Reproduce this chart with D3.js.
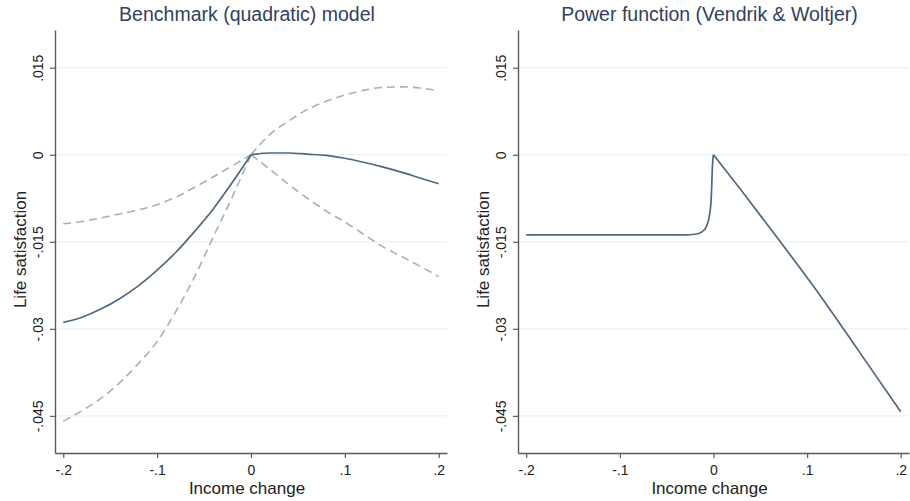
<!DOCTYPE html>
<html>
<head>
<meta charset="utf-8">
<script src="https://cdn.jsdelivr.net/npm/d3@7"></script>
<style>
  body { margin: 0; background: #fff; }
  svg { display: block; font-family: "Liberation Sans", Arial, sans-serif; }
</style>
</head>
<body>
<div id="chart"></div>
<script>
// ticks
const xTicks = [-0.2, -0.1, 0, 0.1, 0.2];
const xTickLabels = ['-.2', '-.1', '0', '.1', '.2'];
const yTicks = [0.015, 0, -0.015, -0.03, -0.045];
const yTickLabels = ['.015', '0', '-.015', '-.03', '-.045'];

// left panel: quadratic fit with confidence band
const quadX = [-0.2, -0.18, -0.16, -0.14, -0.12, -0.1, -0.08, -0.06, -0.04, -0.02, 0,
               0.02, 0.04, 0.06, 0.08, 0.1, 0.12, 0.14, 0.16, 0.18, 0.2];
const quadFit = [-0.0289, -0.0280, -0.0266, -0.0248, -0.0226, -0.0199, -0.0168, -0.0132, -0.0093, -0.0048, 0,
                 0.0003, 0.0003, 0.0001, -0.0001, -0.0006, -0.0013, -0.0021, -0.0030, -0.0040, -0.0050];
const quadUpper = [-0.0119, -0.0115, -0.0109, -0.0102, -0.0095, -0.0086, -0.0073, -0.0056, -0.0038, -0.0019, 0,
                   0.0035, 0.0058, 0.0078, 0.0092, 0.0103, 0.0111, 0.0116, 0.0117, 0.0115, 0.0110];
const quadLower = [-0.0459, -0.0441, -0.0420, -0.0393, -0.0360, -0.0322, -0.0270, -0.0210, -0.0141, -0.0073, 0,
                   -0.0025, -0.0051, -0.0075, -0.0097, -0.0116, -0.0137, -0.0158, -0.0175, -0.0192, -0.0210];

// right panel: power function
const powX = [-0.2, -0.1, -0.03, -0.02, -0.0125, -0.008, -0.0054, -0.0035, -0.0026, -0.0018, -0.0012, -0.0005, 0,
              0.03, 0.07, 0.115, 0.155, 0.2];
const powFit = [-0.0138, -0.0138, -0.0138, -0.0137, -0.0133, -0.0125, -0.0113, -0.0095, -0.0079, -0.0050, -0.0021, -0.0006, 0,
                -0.0062, -0.0147, -0.0245, -0.0338, -0.0443];

const W = 910, H = 501;
const svg = d3.select('#chart').append('svg').attr('width', W).attr('height', H);

const navy = '#50687f', dash = '#a9b1b1', axisCol = '#5a5a5a', gridCol = '#e6efef', titleCol = '#33405e';

function panel(left, right, title, series) {
  const top = 30, bottom = 453;
  const x = d3.scaleLinear().domain([-0.2088, 0.2088]).range([left, right]);
  const y = d3.scaleLinear().domain([-0.0514, 0.0215]).range([bottom, top]);
  const g = svg.append('g');

  // grid
  g.selectAll('line.grid').data(yTicks).join('line')
    .attr('x1', left).attr('x2', right)
    .attr('y1', d => y(d)).attr('y2', d => y(d))
    .attr('stroke', gridCol).attr('stroke-width', 1);

  // axes
  const ax = g.append('g').attr('transform', `translate(0,${bottom})`)
    .call(d3.axisBottom(x).tickValues(xTicks).tickFormat((d, i) => xTickLabels[i]).tickSize(5).tickSizeOuter(0));
  ax.select('.domain').attr('stroke', axisCol).attr('stroke-width', 1.4);
  ax.selectAll('.tick line').attr('stroke', axisCol).attr('stroke-width', 1.2);
  ax.selectAll('.tick text').attr('font-size', 14).attr('fill', '#222').attr('dy', '1.0em')
    .attr('font-family', '"Liberation Sans", Arial, sans-serif');

  const ay = g.append('g').attr('transform', `translate(${left},0)`)
    .call(d3.axisLeft(y).tickValues(yTicks).tickFormat((d, i) => yTickLabels[i]).tickSize(5).tickSizeOuter(0));
  ay.select('.domain').attr('stroke', axisCol).attr('stroke-width', 1.4);
  ay.selectAll('.tick line').attr('stroke', axisCol).attr('stroke-width', 1.2);
  ay.selectAll('.tick text').attr('font-size', 14).attr('fill', '#222')
    .attr('font-family', '"Liberation Sans", Arial, sans-serif')
    .attr('x', null).attr('dy', null)
    .attr('text-anchor', 'middle')
    .attr('transform', 'translate(-12,0) rotate(-90)');

  // titles
  const cx = (left + right) / 2 - 4;
  g.append('text').attr('x', cx).attr('y', 21).attr('text-anchor', 'middle')
    .attr('font-size', 19.5).attr('fill', titleCol).text(title);
  g.append('text').attr('x', cx).attr('y', 494).attr('text-anchor', 'middle')
    .attr('font-size', 17).attr('fill', '#222').text('Income change');
  g.append('text').attr('transform', `translate(${left - 29},${(top + bottom) / 2 + 8}) rotate(-90)`)
    .attr('text-anchor', 'middle').attr('font-size', 17).attr('fill', '#222').text('Life satisfaction');

  series.forEach(s => {
    const pts = s.xs.map((v, i) => [v, s.ys[i]]);
    const pieces = s.split ? [pts.filter(p => p[0] <= 0), pts.filter(p => p[0] >= 0)] : [pts];
    const line = d3.line().x(p => x(p[0])).y(p => y(p[1])).curve(s.curve);
    pieces.forEach(pc => {
      g.append('path').datum(pc).attr('d', line)
        .attr('fill', 'none').attr('stroke', s.color).attr('stroke-width', s.width)
        .attr('stroke-dasharray', s.dash || null).attr('stroke-linejoin', 'round');
    });
  });
}

panel(55, 447, 'Benchmark (quadratic) model', [
  { xs: quadX, ys: quadUpper, color: dash, width: 1.6, dash: '8,5', split: true, curve: d3.curveMonotoneX },
  { xs: quadX, ys: quadLower, color: dash, width: 1.6, dash: '8,5', split: true, curve: d3.curveMonotoneX },
  { xs: quadX, ys: quadFit, color: navy, width: 1.7, split: true, curve: d3.curveMonotoneX }
]);

panel(518, 909, 'Power function (Vendrik & Woltjer)', [
  { xs: powX, ys: powFit, color: navy, width: 1.7, split: true, curve: d3.curveMonotoneX }
]);
</script>
</body>
</html>
